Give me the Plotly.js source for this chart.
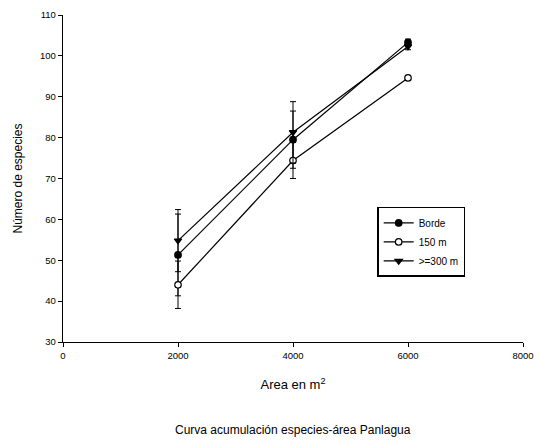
<!DOCTYPE html>
<html>
<head>
<meta charset="utf-8">
<script src="https://cdn.plot.ly/plotly-3.0.1.min.js"></script>
<style>html,body{margin:0;padding:0;background:#fff;}#chart{width:540px;height:445px;}</style>
</head>
<body>
<div id="chart"></div>
<script>
const area = [2000, 4000, 6000];
const bordeVals = [51.3, 79.5, 103.3];
const bordeErr = [10.0, 7.0, 0.8];
const m150Vals = [44.0, 74.4, 94.6];
const m150Err = [5.8, 4.4, 0.6];
const m300Vals = [54.8, 81.3, 102.3];
const m300Err = [7.6, 7.5, 0.8];
const seriesNames = ["Borde", "150 m", ">=300 m"];
const xTicks = [0, 2000, 4000, 6000, 8000];
const yTicks = [30, 40, 50, 60, 70, 80, 90, 100, 110];

const fontFam = "Liberation Sans, Arial, sans-serif";
function mk(name, y, err, symbol, fill) {
  return {
    type: "scatter", mode: "lines+markers", name: name,
    x: area, y: y,
    line: {color: "#000", width: 1.2},
    marker: {symbol: symbol, size: 6.5, color: fill, line: {color: "#000", width: 1.2}},
    error_y: {type: "data", array: err, visible: true, color: "#000", thickness: 1, width: 3}
  };
}
const data = [
  mk(seriesNames[0], bordeVals, bordeErr, "circle", "#000"),
  mk(seriesNames[1], m150Vals, m150Err, "circle", "#fff"),
  mk(seriesNames[2], m300Vals, m300Err, "triangle-down", "#000")
];
const layout = {
  width: 540, height: 445,
  margin: {l: 63, r: 17, t: 15, b: 103},
  paper_bgcolor: "#fff", plot_bgcolor: "#fff",
  font: {family: fontFam, color: "#000"},
  showlegend: true,
  legend: {
    x: 0.683, y: 0.413, xanchor: "left", yanchor: "top",
    bordercolor: "#000", borderwidth: 1.5, bgcolor: "#fff",
    font: {size: 10, family: fontFam},
    tracegroupgap: 4, itemwidth: 30
  },
  xaxis: {
    range: [0, 8000], tickvals: xTicks, ticktext: xTicks.map(String),
    showgrid: false, zeroline: false, showline: true, linecolor: "#000", linewidth: 1.2,
    ticks: "outside", ticklen: 4, tickcolor: "#000",
    tickfont: {size: 9.5, family: fontFam},
    title: {text: "Area en m<sup>2</sup>", font: {size: 13, family: fontFam}, standoff: 20}
  },
  yaxis: {
    range: [30, 110], tickvals: yTicks, ticktext: yTicks.map(String),
    showgrid: false, zeroline: false, showline: true, linecolor: "#000", linewidth: 1.2,
    ticks: "outside", ticklen: 4, tickcolor: "#000",
    tickfont: {size: 9.5, family: fontFam},
    title: {text: "Número de especies", font: {size: 12, family: fontFam}, standoff: 14}
  },
  annotations: [{
    text: "Curva acumulación especies-área Panlagua",
    xref: "paper", yref: "paper", x: 0.5, y: -0.27, xanchor: "center", yanchor: "middle",
    showarrow: false, font: {size: 12, family: fontFam}
  }]
};
Plotly.newPlot("chart", data, layout, {staticPlot: true, displayModeBar: false});
</script>
</body>
</html>
